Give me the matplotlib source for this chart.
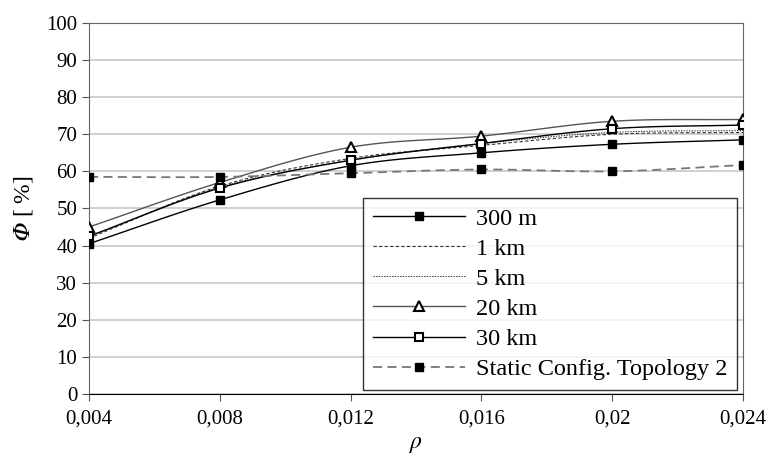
import matplotlib

matplotlib.use("Agg")

import matplotlib.pyplot as plt
import numpy as np

plt.rcParams["font.family"] = ["Liberation Serif", "DejaVu Serif"]
plt.rcParams["mathtext.fontset"] = "stix"

rho = [0.004, 0.008, 0.012, 0.016, 0.020, 0.024]
x_labels = ["0,004", "0,008", "0,012", "0,016", "0,02", "0,024"]

phi_300m = [40.5, 52.3, 61.5, 65.0, 67.3, 68.5]
phi_1km = [42.0, 56.0, 63.5, 67.0, 70.0, 70.5]
phi_5km = [42.5, 55.7, 63.0, 67.5, 70.5, 71.0]
phi_20km = [45.0, 57.0, 66.5, 69.5, 73.5, 74.0]
phi_30km = [42.5, 55.5, 63.0, 67.5, 71.5, 72.5]
phi_static = [58.5, 58.5, 59.5, 60.5, 60.0, 61.7]


def _smooth(x, y, n=20):
    # Catmull-Rom through the points, roughly what a spreadsheet "smoothed line" does
    x = np.asarray(x, float)
    y = np.asarray(y, float)
    px = np.concatenate([[2 * x[0] - x[1]], x, [2 * x[-1] - x[-2]]])
    py = np.concatenate([[2 * y[0] - y[1]], y, [2 * y[-1] - y[-2]]])
    xs, ys = [], []
    t = np.linspace(0, 1, n, endpoint=False)
    for i in range(1, len(px) - 2):
        for arr, out in ((px, xs), (py, ys)):
            p0, p1, p2, p3 = arr[i - 1], arr[i], arr[i + 1], arr[i + 2]
            out.extend(0.5 * ((2 * p1) + (-p0 + p2) * t
                              + (2 * p0 - 5 * p1 + 4 * p2 - p3) * t ** 2
                              + (-p0 + 3 * p1 - 3 * p2 + p3) * t ** 3))
    xs.append(x[-1])
    ys.append(y[-1])
    return np.array(xs), np.array(ys)


fig = plt.figure(figsize=(7.7, 4.65), dpi=100)
ax = fig.add_axes([0.1156, 0.153, 0.8494, 0.7975])

series = [
    ("300 m", phi_300m, dict(color="black", lw=1.0, ls="-"),
     dict(marker="s", ms=5.5, mfc="black", mec="black")),
    ("1 km", phi_1km, dict(color="#333333", lw=0.8, ls=(0, (3, 2))), None),
    ("5 km", phi_5km, dict(color="#333333", lw=0.8, ls=(0, (1.2, 1.2))), None),
    ("20 km", phi_20km, dict(color="#555555", lw=1.0, ls="-"),
     dict(marker="^", ms=6.5, mfc="white", mec="black", mew=1.5)),
    ("30 km", phi_30km, dict(color="black", lw=1.0, ls="-"),
     dict(marker="s", ms=5.5, mfc="white", mec="black", mew=1.5)),
    ("Static Config. Topology 2", phi_static, dict(color="#777777", lw=1.3, ls=(0, (5, 3))),
     dict(marker="s", ms=5.5, mfc="black", mec="black")),
]

handles = []
for label, vals, line_kw, mk_kw in series:
    xs, ys = _smooth(rho, vals)
    ax.plot(xs, ys, zorder=3, **line_kw)
    if mk_kw:
        ax.plot(rho, vals, ls="none", zorder=4, **mk_kw)
    h, = ax.plot([], [], label=label, **line_kw, **(mk_kw or {}))
    handles.append(h)

ax.set_xlim(0.004, 0.024)
ax.set_ylim(0, 100)
ax.set_xticks(rho, labels=x_labels)
ax.set_yticks(np.arange(0, 101, 10))
ax.tick_params(labelsize=15, direction="out", length=5, color="#555555")
ax.tick_params(axis="x", pad=6)
ax.yaxis.grid(True, color="#c8c8c8", lw=1.2)
ax.set_axisbelow(True)
for side in ("left", "right", "top"):
    ax.spines[side].set_color("#666666")
ax.spines["bottom"].set_color("black")

ax.set_xlabel(r"$\rho$", fontsize=17, labelpad=4)
ax.set_ylabel("$\U0001D6F7$ [ %]", fontsize=17, labelpad=8)

leg = ax.legend(handles=handles, loc="lower right", bbox_to_anchor=(0.991, 0.011),
                borderaxespad=0, fontsize=17.5, frameon=True, fancybox=False,
                edgecolor="black", handlelength=3.8, labelspacing=0.33,
                borderpad=0.4, handletextpad=0.45)
leg.get_frame().set_linewidth(1.0)

fig.savefig("out.png", dpi=100)
